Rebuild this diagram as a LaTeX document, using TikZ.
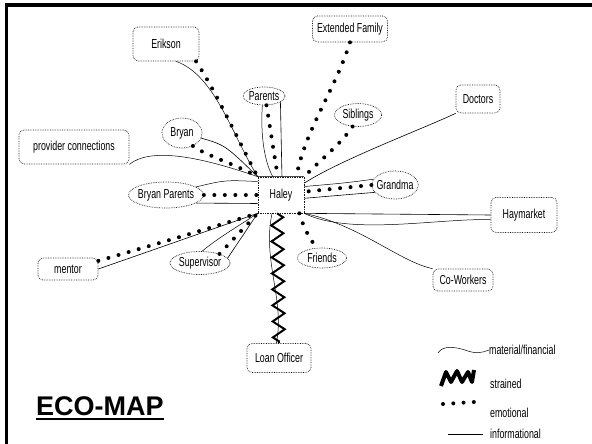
\documentclass[tikz,border=0pt]{standalone}
\usepackage{fontspec}
\setmainfont{Liberation Sans}
\newfontfamily\lblfont{Liberation Sans}[FakeStretch=0.68]
\usepackage{tikz}
\usetikzlibrary{arrows.meta,positioning,shapes.geometric,decorations.pathmorphing}
\newcommand{\lbl}{\lblfont\fontsize{13}{14}\selectfont}

\begin{document}
\begin{tikzpicture}[x=1pt,y=-1pt,
  box/.style={draw=black!90, densely dotted, line width=0.7pt, rounded corners=5pt, font=\lbl, inner sep=1pt},
  oval/.style={draw=black!90, densely dotted, line width=0.7pt, ellipse, font=\lbl, inner xsep=-2pt, inner ysep=-1pt},
  legend/.style={anchor=west, font=\lbl, inner sep=0pt},
  material/.style={line width=0.5pt},
  informational/.style={line width=0.6pt},
  emotional/.style={line width=4pt, line cap=round, dash pattern=on 0pt off 10.5pt},
  strained/.style={line width=2pt, decorate, decoration={zigzag, segment length=16pt, amplitude=6pt}},
]
  \useasboundingbox (0,0) rectangle (592,444);
  % Frame
  \draw[line width=3.5pt] (6.5,450) -- (6.5,5) -- (600,5);
  % Center
  \node[draw=black!90, densely dotted, line width=0.7pt, minimum width=46, minimum height=36, font=\lbl] (haley) at (281,195) {Haley};
  \draw[black!70, line width=1.5pt] (haley.north west) -- (haley.north east);
  % Network
  \node[box, minimum width=66, minimum height=34] (erikson) at (166,44) {Erikson};
  \node[box, minimum width=75, minimum height=26] (extfam) at (350,29) {Extended Family};
  \node[box, minimum width=44, minimum height=28] (doctors) at (478,99) {Doctors};
  \node[box, minimum width=110, minimum height=34] (provider) at (74,147) {provider connections};
  \node[oval, minimum width=40, minimum height=30] (bryan) at (182,133) {Bryan};
  \node[oval, minimum width=42, minimum height=18] (parents) at (264,96) {Parents};
  \node[oval, minimum width=47, minimum height=23] (siblings) at (358,115) {Siblings};
  \node[oval, minimum width=75, minimum height=26] (bryanpar) at (166,195) {Bryan Parents};
  \node[oval, minimum width=44, minimum height=28] (grandma) at (395,185) {Grandma};
  \node[box, minimum width=66, minimum height=35] (haymarket) at (524,215) {Haymarket};
  \node[box, minimum width=60, minimum height=22] (coworkers) at (463,280) {Co-Workers};
  \node[oval, minimum width=49, minimum height=20] (friends) at (322,258) {Friends};
  \node[oval, minimum width=60, minimum height=23] (supervisor) at (200,263) {Supervisor};
  \node[box, minimum width=60, minimum height=22] (mentor) at (68,269) {mentor};
  \node[box, minimum width=64, minimum height=29] (loan) at (279,358) {Loan Officer};
  % Erikson
  \draw[material] (erikson.-60) .. controls (215,75) and (232,135) .. (haley.north west);
  \draw[emotional] (erikson.-30) .. controls (215,90) and (238,140) .. (haley.north west);
  % Extended family
  \draw[emotional] (extfam.south) .. controls (335,90) and (305,130) .. (haley.50);
  % Doctors
  \draw[informational] (doctors.south west) .. controls (420,130) and (340,160) .. (haley.27);
  % provider connections
  \draw[material] (provider.south east) .. controls (150,148) and (195,155) .. (haley.north west);
  % Bryan
  \draw[informational] (bryan.-15) .. controls (225,145) .. (haley.north west);
  \draw[emotional] (bryan.-50) .. controls (205,155) and (230,162) .. (haley.north west);
  % Parents
  \draw[material] (parents.-100) .. controls (260,140) and (266,165) .. (haley.114);
  \draw[informational] (parents.-20) -- (haley.87);
  \draw[emotional] (parents.-75) .. controls (272,140) .. (haley.100);
  % Siblings
  \draw[emotional] (siblings.-115) .. controls (340,145) and (320,160) .. (haley.north east);
  % Bryan Parents
  \draw[material] (bryanpar.15) .. controls (225,180) .. (haley.150);
  \draw[informational] (bryanpar.-15) -- (haley.200);
  \draw[emotional] (bryanpar.east) -- (haley.west);
  % Grandma
  \draw[material] (grandma.165) .. controls (345,183) .. (haley.20);
  \draw[informational] (grandma.200) -- (haley.-8);
  \draw[emotional] (grandma.west) -- (haley.8);
  % Haymarket
  \draw[informational] (haley.south east) -- (haymarket.west);
  \draw[material] (haley.south east) .. controls (350,236) and (440,218) .. (haymarket.-172);
  % Co-Workers
  \draw[material] (haley.south east) .. controls (360,225) and (400,262) .. (coworkers.north west);
  % Friends
  \draw[emotional] (haley.-45) .. controls (305,230) .. (friends.120);
  % Loan Officer
  \draw[strained] (haley.-102) -- (loan.north);
  \draw[material] (haley.-116) .. controls (262,260) and (285,300) .. (loan.100);
  % Supervisor
  \draw[material] (supervisor.80) .. controls (218,238) and (240,225) .. (haley.south west);
  \draw[informational] (supervisor.10) -- (haley.south west);
  \draw[emotional] (supervisor.25) -- (haley.south west);
  % mentor
  \draw[informational] (mentor.east) -- (haley.south west);
  \draw[emotional] (mentor.15) .. controls (170,240) .. (haley.south west);
  % Title
  \node[anchor=base west, inner sep=0pt, font=\bfseries\fontsize{27}{30}\selectfont] (title) at (36,415) {ECO-MAP};
  \draw[line width=1.6pt] ([yshift=-4pt]title.base west) -- ([yshift=-4pt]title.base east);
  % Legend
  \node[legend] (lmat) at (489,350) {material/financial};
  \draw[material] (438,353) .. controls (443,345) and (455,347) .. (465,350) .. controls (475,354) and (482,353) .. (lmat.west);
  \node[legend] (lstr) at (490,384) {strained};
  \draw[line width=4pt, line join=round] (441,386) -- (446,372) -- (451,382) -- (457,371) -- (462,382) -- (468,372) -- (472,382) -- (474,370);
  \node[legend] (lemo) at (490,413) {emotional};
  \draw[emotional, dash pattern=on 0pt off 10.3pt] (443,404) -- (474,402);
  \node[legend] (linf) at (490,434) {informational};
  \draw[informational] (448,434) -- (483,434);
\end{tikzpicture}
\end{document}
